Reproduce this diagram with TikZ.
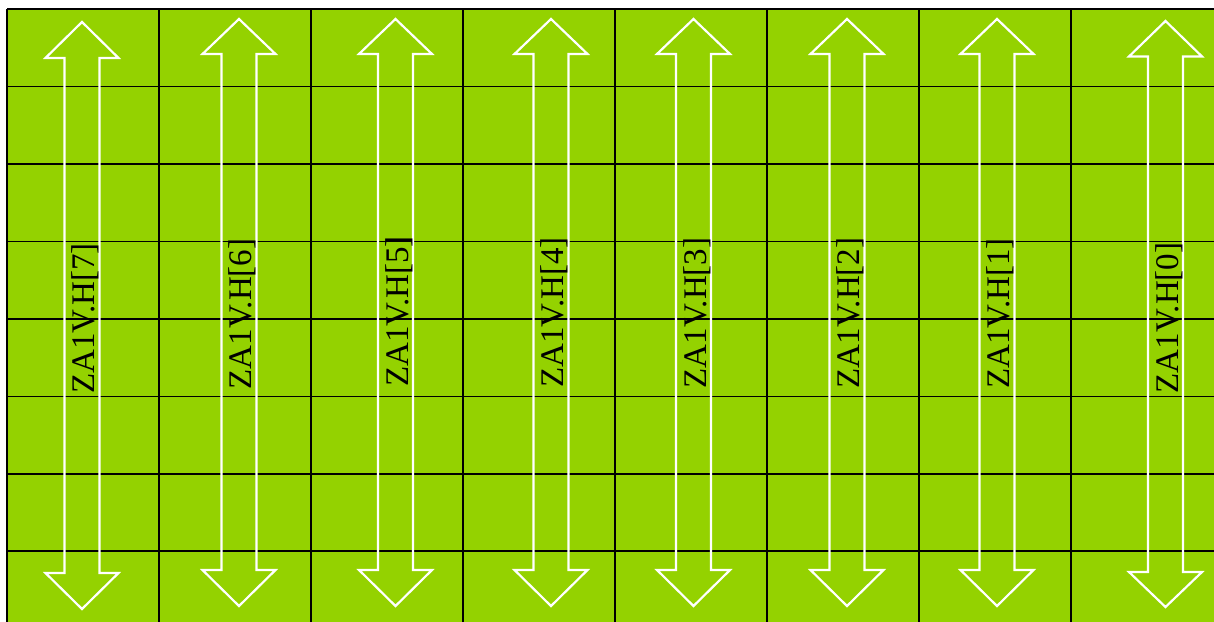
\documentclass[tikz,border=0pt]{standalone}
\usepackage{fontspec}
\setmainfont{Liberation Serif}
\definecolor{cellgreen}{RGB}{148,210,0}
\tikzset{
  gridline/.style={draw=black, line width=1.6bp},
  arrowoutline/.style={draw=white, line width=2.2bp, line join=miter},
  lbl/.style={rotate=90, anchor=base, inner sep=0pt, text=black,
    font=\fontsize{33bp}{39bp}\selectfont}
}
\begin{document}
\begin{tikzpicture}[x=1bp, y=-1bp]
\useasboundingbox (0,0) rectangle (1214,622);
\fill[white] (0,0) rectangle (1214,622);
\fill[cellgreen] (7,8.5) rectangle (1214,622);
\draw[draw=black!60, line width=1bp] (7,8.5) -- (1214,8.5);
% grid
\foreach \i in {0,...,8} {
  \draw[gridline] ({7+152*\i},9.3) -- ({7+152*\i},622);
}
\foreach \j in {0,...,8} {
  \draw[gridline] (7,{9.3+77.4*\j}) -- (1214,{9.3+77.4*\j});
}
% arrows
\foreach \c/\ty/\tb/\bb/\bt/\my/\k in {
  82/22/58/573/609/318.5/7,
  239/19/54/570/606/314/6,
  395.5/19/54/570/606/311.5/5,
  551/19/54/570/606/312.5/4,
  693.5/19/54/570/606/313/3,
  847/19/54/570/606/313/2,
  997/19/54/570/606/313.5/1,
  1165.5/21/56.5/572/607/318/0} {
  \draw[arrowoutline] (\c,\ty) -- ({\c+36.5},\tb) -- ({\c+17.5},\tb)
    -- ({\c+17.5},\bb) -- ({\c+36.5},\bb) -- (\c,\bt) -- ({\c-36.5},\bb)
    -- ({\c-17.5},\bb) -- ({\c-17.5},\tb) -- ({\c-36.5},\tb) -- cycle;
  \node[lbl] (t\k) at ({\c+12.5},\my) {ZA1V.H[\k]};
}
\end{tikzpicture}
\end{document}
